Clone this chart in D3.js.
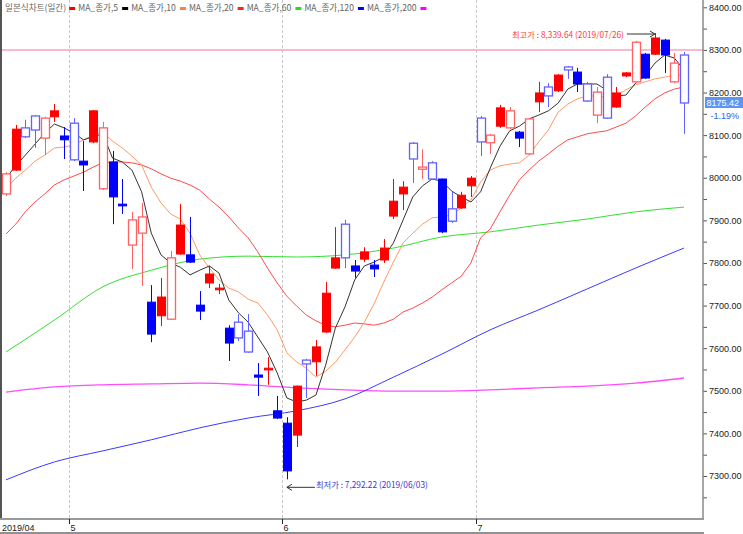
<!DOCTYPE html>
<html>
<head>
<meta charset="utf-8">
<script src="https://cdn.jsdelivr.net/npm/d3@7"></script>
<style>
  body { margin: 0; background: #fff; }
  svg { display: block; }
</style>
</head>
<body>
<svg id="chart"></svg>
<script>
// daily candles, index 0 = first day shown (2019/04)
const monthLabels = ["2019/04", "5", "6", "7"];
const monthStarts = [0, 7, 29, 49];

const opens = [
  7962, 8018, 8117, 8145, 8093, 8143, 8098, 8128, 8039, 8084,
  7974, 8037, 7938, 7842, 7870, 7708, 7676, 7668, 7821, 7819,
  7701, 7753, 7737, 7647, 7661, 7640, 7537, 7549, 7453, 7424,
  7396, 7572, 7568, 7638, 7788, 7891, 7793, 7809, 7795, 7807,
  7910, 7962, 8081, 8020, 8035, 7997, 7927, 7929, 7981, 8140,
  8082, 8121, 8117, 8107, 8056, 8178, 8213, 8204, 8260, 8248,
  8220, 8147, 8236, 8166, 8239, 8225, 8290, 8290, 8323, 8225,
  8288
];
const highs = [
  8013, 8124, 8136, 8147, 8143, 8173, 8119, 8140, 8086, 8159,
  8131, 8063, 7997, 7920, 7941, 7748, 7765, 7828, 7938, 7908,
  7734, 7793, 7751, 7654, 7680, 7680, 7565, 7579, 7488, 7438,
  7512, 7575, 7619, 7755, 7884, 7901, 7807, 7837, 7807, 7856,
  7997, 7992, 8084, 8067, 8039, 7998, 7967, 7967, 8004, 8145,
  8103, 8171, 8166, 8110, 8140, 8225, 8222, 8243, 8262, 8258,
  8225, 8213, 8243, 8213, 8248, 8321, 8293, 8339.64, 8326, 8293,
  8295
];
const lows = [
  7957, 8016, 8093, 8070, 8053, 8131, 8044, 8039, 7969, 8081,
  7971, 7891, 7915, 7786, 7746, 7614, 7652, 7666, 7819, 7800,
  7666, 7741, 7727, 7570, 7617, 7589, 7488, 7514, 7434, 7292.22,
  7368, 7483, 7535, 7636, 7786, 7788, 7765, 7802, 7767, 7800,
  7903, 7924, 7988, 7997, 7995, 7870, 7894, 7927, 7955, 8051,
  8056, 8117, 8114, 8072, 8053, 8154, 8166, 8201, 8232, 8201,
  8178, 8128, 8138, 8164, 8236, 8222, 8232, 8288, 8246, 8222,
  8103
];
const closes = [
  8009, 8114, 8096, 8112, 8140, 8157, 8089, 8042, 8030, 8157,
  8117, 7955, 7934, 7901, 7908, 7633, 7720, 7812, 7889, 7802,
  7687, 7774, 7741, 7612, 7624, 7591, 7532, 7553, 7436, 7312,
  7511, 7563, 7603, 7729, 7812, 7812, 7781, 7826, 7786, 7835,
  7945, 7978, 8044, 8025, 7997, 7873, 7898, 7959, 7999, 8084,
  8100, 8164, 8157, 8093, 8138, 8199, 8192, 8241, 8253, 8220,
  8180, 8201, 8140, 8199, 8246, 8318, 8234, 8328, 8288, 8269,
  8175.42
];
// R/B = filled red/blue, r/b = hollow red/blue
const kinds = "rRbbrRBbBR" + "rBBrrBRrRB" + "BRRBbbBRBB" + "RbRRRbBRBR" +
              "RRbrbBbRRb" + "rRrBrRbRbB" + "brbRRrBRBr" + "b";

// moving averages read per day
const ma10 = [
  7999, 8028, 8053, 8079, 8105, 8126, 8117, 8105, 8089, 8096,
  8103, 8046, 8037, 8018, 7967, 7870, 7819, 7800, 7790, 7772,
  7783, 7793, 7776, 7713, 7683, 7661, 7626, 7591, 7542, 7483,
  7474, 7478, 7490, 7560, 7647, 7697, 7760, 7793, 7802, 7814,
  7847, 7901, 7955, 7981, 7997, 7992, 7969, 7955, 7943, 7967,
  8023, 8074, 8110, 8121, 8138, 8147, 8157, 8175, 8208, 8220,
  8220, 8220, 8206, 8192, 8194, 8222, 8239, 8269, 8288, 8281,
  8253
];
const ma20 = [
  7974, 7999, 8018, 8039, 8053, 8070, 8072, 8077, 8089, 8100,
  8107, 8086, 8070, 8051, 8030, 7978, 7941, 7915, 7903, 7870,
  7819, 7788, 7760, 7741, 7732, 7715, 7706, 7678, 7643, 7589,
  7568, 7553, 7532, 7546, 7567, 7596, 7626, 7661, 7704, 7755,
  7802, 7847, 7870, 7891, 7906, 7908, 7913, 7929, 7948, 7990,
  8018, 8028, 8032, 8035, 8053, 8084, 8112, 8154, 8173, 8185,
  8192, 8192, 8189, 8192, 8206, 8218, 8225, 8232, 8236, 8241,
  8241
];
const ma60 = [
  7868, 7891, 7920, 7943, 7962, 7983, 7995, 8004, 8013, 8025,
  8035, 8037, 8037, 8035, 8030, 8021, 8009, 7999, 7992, 7983,
  7971, 7950, 7931, 7908, 7882, 7859, 7826, 7788, 7753, 7722,
  7699, 7678, 7664, 7654, 7650, 7654, 7659, 7657, 7654, 7659,
  7668, 7685, 7694, 7706, 7720, 7737, 7753, 7769, 7800, 7859,
  7880, 7920, 7959, 7995, 8018, 8039, 8056, 8074, 8089, 8096,
  8103, 8107, 8110, 8119, 8128, 8145, 8166, 8185, 8199, 8208,
  8213
];
// slow averages read every 5 days
const slowIdx = [0, 5, 10, 15, 20, 25, 30, 35, 40, 45, 50, 55, 60, 65, 70];
const ma120 = [7591, 7666, 7744, 7783, 7809, 7816, 7814, 7819, 7835, 7861, 7873, 7889, 7903, 7920, 7931];
const ma200 = [7291, 7333, 7359, 7385, 7413, 7436, 7453, 7481, 7532, 7586, 7643, 7690, 7739, 7788, 7835];
const ma240 = [7497, 7509, 7514, 7516, 7518, 7514, 7507, 7502, 7499, 7499, 7502, 7507, 7511, 7518, 7530];

const yTicks = [7300, 7400, 7500, 7600, 7700, 7800, 7900, 8000, 8100, 8200, 8300, 8400];
const yMinorTicks = [7250, 7350, 7450, 7550, 7650, 7750, 7850, 7950, 8050, 8150, 8250, 8350];
const refLevel = 8300;

const legendTitle = "일본식차트(일간)";
const legendNames = ["MA_종가,5", "MA_종가,10", "MA_종가,20", "MA_종가,60", "MA_종가,120", "MA_종가,200", ""];
const legendColors = ["#ff0000", "#000000", "#ff7f40", "#ff2020", "#22dd22", "#0000ff", "#ff00ff"];

const highIdx = 67, highText = "최고가 : 8,339.64 (2019/07/26)";
const lowIdx = 29, lowText = "최저가 : 7,292.22 (2019/06/03)";
const lastPrice = "8175.42", lastChange = "-1.19%";

const width = 743, height = 534;
const plotRight = 703, plotBottom = 519;

const svg = d3.select("#chart").attr("width", width).attr("height", height);

const x = d3.scaleLinear().domain([0, 70]).range([6, 684]);
const y = d3.scaleLinear().domain([7300, 8400]).range([476, 7.3]);

// month separators
const gridX = monthStarts.slice(1).map(i => Math.round(x(i - 0.5)) + 0.5);
svg.append("g").selectAll("line").data(gridX).join("line")
    .attr("x1", d => d).attr("x2", d => d)
    .attr("y1", 0).attr("y2", plotBottom)
    .attr("stroke", "#c8c8c8")
    .attr("stroke-dasharray", "3,2");

// reference level
svg.append("line")
    .attr("x1", 2).attr("x2", plotRight)
    .attr("y1", y(refLevel)).attr("y2", y(refLevel))
    .attr("stroke", "#f5a3c3").attr("stroke-width", 1.5);

// moving average lines
const dailyLine = d3.line().x((d, i) => x(i)).y(d => y(d));
const slowLine = d3.line().x(d => x(d[0])).y(d => y(d[1])).curve(d3.curveMonotoneX);

function drawLine(data, gen, color, w) {
    svg.append("path")
        .datum(data)
        .attr("fill", "none")
        .attr("stroke", color)
        .attr("stroke-width", w)
        .attr("d", gen);
}

drawLine(d3.zip(slowIdx, ma240), slowLine, "#ff4cff", 1.3);
drawLine(d3.zip(slowIdx, ma200), slowLine, "#3a3aff", 1);
drawLine(d3.zip(slowIdx, ma120), slowLine, "#33e033", 1);
drawLine(ma60, dailyLine, "#ff4a4a", 1);
drawLine(ma20, dailyLine, "#ff9a66", 1);
drawLine(ma10, dailyLine, "#333333", 1);

// candles
const candleColor = { R: "#ff0000", r: "#ff6262", B: "#0000ff", b: "#6262ff" };
const candles = opens.map((o, i) => ({ i, o, h: highs[i], l: lows[i], c: closes[i], k: kinds[i] }));
const isFilled = k => k === k.toUpperCase();
const cg = svg.append("g");
cg.selectAll("line").data(candles).join("line")
    .attr("x1", d => Math.round(x(d.i)) + 0.5)
    .attr("x2", d => Math.round(x(d.i)) + 0.5)
    .attr("y1", d => y(d.h))
    .attr("y2", d => y(d.l))
    .attr("stroke", d => candleColor[d.k]);
cg.selectAll("rect").data(candles).join("rect")
    .attr("x", d => Math.round(x(d.i)) - 4 + 0.5)
    .attr("y", d => y(Math.max(d.o, d.c)))
    .attr("width", 8)
    .attr("height", d => Math.max(1, Math.abs(y(d.o) - y(d.c))))
    .attr("fill", d => isFilled(d.k) ? candleColor[d.k] : "#fff")
    .attr("stroke", d => candleColor[d.k])
    .attr("stroke-width", d => isFilled(d.k) ? 1 : 1.3);

// high / low annotations
function arrowHead(tipX, tipY, dir) {
    svg.append("path")
        .attr("d", `M${tipX - dir * 5},${tipY - 3}L${tipX},${tipY}L${tipX - dir * 5},${tipY + 3}`)
        .attr("fill", "none").attr("stroke", "#333");
}
const hx = x(highIdx), hy = y(highs[highIdx]) + 1;
svg.append("line").attr("x1", hx - 28).attr("x2", hx).attr("y1", hy).attr("y2", hy).attr("stroke", "#333");
arrowHead(hx, hy, 1);
svg.append("text")
    .attr("x", hx - 31).attr("y", hy + 3.5)
    .attr("text-anchor", "end")
    .attr("font-family", "Noto Sans CJK KR").attr("font-size", 8.3)
    .attr("fill", "#ff4040")
    .text(highText);

const lx = x(lowIdx), ly = y(lows[lowIdx]) + 8;
svg.append("line").attr("x1", lx).attr("x2", lx + 28).attr("y1", ly).attr("y2", ly).attr("stroke", "#333");
arrowHead(lx, ly, -1);
svg.append("text")
    .attr("x", lx + 29).attr("y", ly + 1)
    .attr("font-family", "Noto Sans CJK KR").attr("font-size", 8.3)
    .attr("fill", "#3a3ad0")
    .text(lowText);

// right price axis
const axisG = svg.append("g").attr("transform", `translate(${plotRight},0)`);
axisG.call(d3.axisRight(y).tickValues(yTicks).tickFormat(d3.format(".2f")).tickSize(4).tickPadding(2));
axisG.append("g").call(d3.axisRight(y).tickValues(yMinorTicks).tickFormat("").tickSize(4));
axisG.selectAll(".domain").remove();
axisG.selectAll("line").attr("stroke", "#555");
axisG.selectAll("text")
    .attr("font-family", "Liberation Sans, Arial, sans-serif")
    .attr("font-size", 9)
    .attr("fill", "#222");
svg.append("line")
    .attr("x1", plotRight).attr("x2", plotRight)
    .attr("y1", 0).attr("y2", plotBottom)
    .attr("stroke", "#8a8a8a").attr("stroke-width", 1.5);

// last price tag
const py = y(closes[closes.length - 1]);
svg.append("rect").attr("x", 705).attr("y", py - 6).attr("width", 38).attr("height", 11).attr("fill", "#5b95f5");
svg.append("text").attr("x", 739).attr("y", py + 3)
    .attr("text-anchor", "end")
    .attr("font-family", "Liberation Sans, Arial, sans-serif").attr("font-size", 9)
    .attr("fill", "#fff").text(lastPrice);
svg.append("text").attr("x", 739).attr("y", py + 16)
    .attr("text-anchor", "end")
    .attr("font-family", "Liberation Sans, Arial, sans-serif").attr("font-size", 9)
    .attr("fill", "#2a62e8").text(lastChange);

// frame
svg.append("line").attr("x1", 1).attr("x2", 1).attr("y1", 0).attr("y2", plotBottom)
    .attr("stroke", "#555").attr("stroke-width", 2);
svg.append("line").attr("x1", 0).attr("x2", plotRight + 1).attr("y1", plotBottom).attr("y2", plotBottom)
    .attr("stroke", "#9a9a9a").attr("stroke-width", 2);
svg.append("line").attr("x1", 0).attr("x2", plotRight + 1).attr("y1", 533).attr("y2", 533)
    .attr("stroke", "#222").attr("stroke-width", 1);

// month axis
const monthX = monthStarts.map((i, k) => k === 0 ? 2 : Math.round(x(i - 0.5)) + 0.5);
svg.append("g").selectAll("line").data(monthX.slice(1)).join("line")
    .attr("x1", d => d).attr("x2", d => d)
    .attr("y1", plotBottom).attr("y2", plotBottom + 5)
    .attr("stroke", "#222");
svg.append("g").selectAll("text").data(monthLabels).join("text")
    .attr("x", (d, k) => k === 0 ? 2 : monthX[k] + 1)
    .attr("y", 531)
    .attr("font-family", "Liberation Sans, Arial, sans-serif")
    .attr("font-size", 9)
    .attr("fill", "#222")
    .text(d => d);

// legend
const lg = svg.append("g").attr("font-family", "Noto Sans CJK KR").attr("font-size", 8.6).attr("fill", "#666");
let lgx = 5;
const title = lg.append("text").attr("x", lgx).attr("y", 11).text(legendTitle);
lgx += title.node().getComputedTextLength() + 3;
legendNames.forEach((name, k) => {
    lg.append("rect").attr("x", lgx).attr("y", 7).attr("width", 6).attr("height", 3).attr("fill", legendColors[k]);
    lgx += 9;
    if (name) {
        const t = lg.append("text").attr("x", lgx).attr("y", 11).text(name);
        lgx += t.node().getComputedTextLength() + 4;
    }
});
</script>
</body>
</html>
